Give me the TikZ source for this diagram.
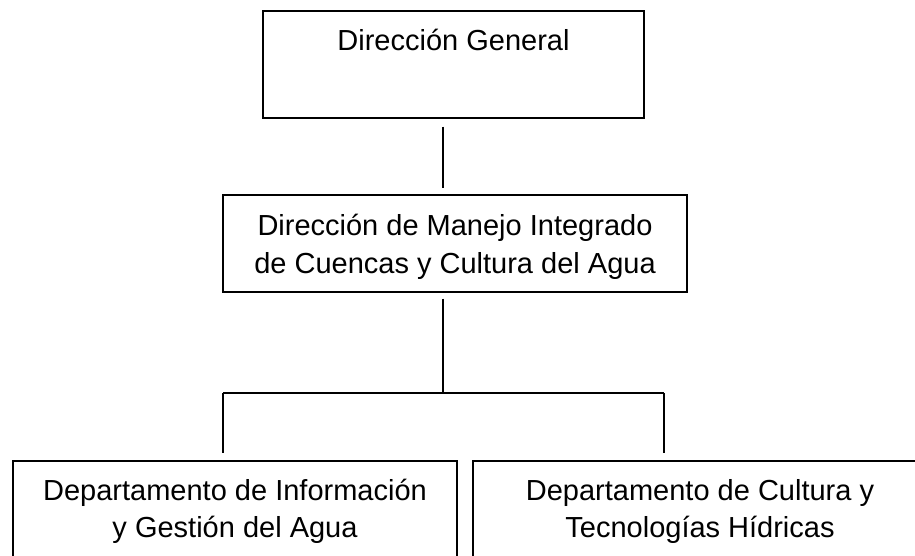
\documentclass[tikz,border=0pt]{standalone}
\usepackage{fontspec}
\setmainfont{Liberation Sans}
\begin{document}
\begin{tikzpicture}[x=1pt,y=-1pt,
  orgbox/.style={draw=black, line width=1.7pt, inner sep=0pt, align=center,
    font=\fontsize{29}{38}\selectfont},
  conn/.style={draw=black, line width=1.6pt}]
\useasboundingbox (0,0) rectangle (915,556);
\clip (0,0) rectangle (915,556);
% boxes
\node[orgbox, minimum width=381pt, text height=40pt, text depth=67pt, anchor=north]
  (top) at (453.5,10) {Dirección General};
\node[orgbox, minimum width=464pt, text height=79pt, text depth=18pt, anchor=north]
  (mid) at (455,194) {Dirección de Manejo Integrado\\de Cuencas y Cultura del Agua};
\node[orgbox, minimum width=444pt, text height=77pt, text depth=43pt, anchor=north,
  font=\fontsize{29}{37.5}\selectfont]
  (bl) at (235,460) {Departamento de Información\\y Gestión del Agua};
\node[orgbox, minimum width=454pt, text height=77pt, text depth=43pt, anchor=north,
  font=\fontsize{29}{37.5}\selectfont]
  (br) at (700,460) {Departamento de Cultura y\\Tecnologías Hídricas};
% connectors
\coordinate (j) at (443,393);
\coordinate (hl) at (223,393);
\coordinate (hr) at (664,393);
\draw[conn, shorten <=8pt, shorten >=6pt] (top.south -| j) -- (mid.north -| j);
\draw[conn, shorten <=6pt] (mid.south -| j) -- (j);
\draw[conn] (hl) -- (hr);
\draw[conn, shorten >=7pt] (hl) -- (hl |- bl.north);
\draw[conn, shorten >=7pt] (hr) -- (hr |- br.north);
\end{tikzpicture}
\end{document}
